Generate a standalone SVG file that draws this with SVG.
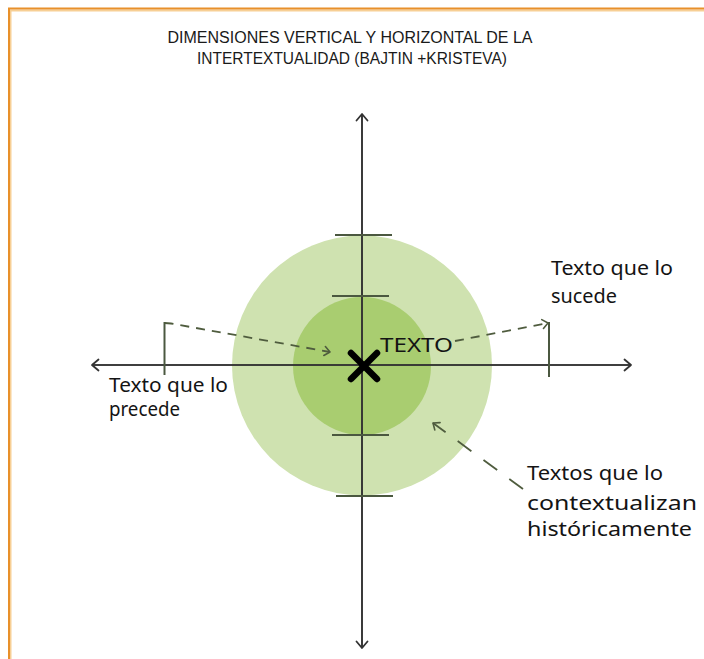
<svg xmlns="http://www.w3.org/2000/svg" width="704" height="659" viewBox="0 0 704 659">
  <style>
    .title { font-family: "Liberation Sans", Arial, sans-serif; font-size: 16px; fill: #1a1a1a; text-anchor: middle; }
    .hand { font-family: "Noto Sans", "DejaVu Sans", sans-serif; font-size: 19px; fill: #141414; }
    .axis { stroke: #333333; stroke-width: 1.6; fill: none; }
    .tick { stroke: #4b5840; stroke-width: 2; fill: none; }
    .dash { stroke: #4f5c3e; stroke-width: 1.8; fill: none; stroke-dasharray: 9 7; }
    .dashlong { stroke: #4f5c3e; stroke-width: 1.8; fill: none; stroke-dasharray: 17 15; }
  </style>
  <defs>
    <marker id="axisArrow" markerUnits="userSpaceOnUse" viewBox="-9 -7 11 14" markerWidth="11" markerHeight="14" refX="0" refY="0" orient="auto" overflow="visible">
      <path d="M-6.5,-5.5 L0,0 L-6.5,5.5" fill="none" stroke="#333333" stroke-width="1.8" stroke-linecap="round" stroke-linejoin="round"/>
    </marker>
    <marker id="dashArrow" markerUnits="userSpaceOnUse" viewBox="-8 -6 10 12" markerWidth="10" markerHeight="12" refX="0" refY="0" orient="auto" overflow="visible">
      <path d="M-5.5,-4.5 L0,0 L-5.5,4.5" fill="none" stroke="#4f5c3e" stroke-width="1.6" stroke-linecap="round" stroke-linejoin="round"/>
    </marker>
  </defs>

  <rect x="0" y="0" width="704" height="659" fill="#ffffff"/>
  <g id="frame">
    <path d="M10.5,659 L10.5,10.5 L704,10.5" fill="none" stroke="#f7cf95" stroke-width="2"/>
    <path d="M9,659 L9,8.5 L704,8.5" fill="none" stroke="#e8902a" stroke-width="2"/>
  </g>

  <g id="title">
    <text class="title" x="350" y="43" textLength="365" lengthAdjust="spacingAndGlyphs">DIMENSIONES VERTICAL Y HORIZONTAL DE LA</text>
    <text class="title" x="352" y="64" textLength="310" lengthAdjust="spacingAndGlyphs">INTERTEXTUALIDAD (BAJTIN +KRISTEVA)</text>
  </g>

  <g id="outer-circle">
    <circle cx="362" cy="365.5" r="130" fill="#cfe2b0"/>
  </g>
  <g id="inner-circle">
    <circle cx="362" cy="366" r="69" fill="#a9cd70"/>
  </g>

  <g id="connectors">
    <line class="axis" x1="362" y1="648" x2="362" y2="114" marker-end="url(#axisArrow)"/>
    <line class="axis" x1="362" y1="114" x2="362" y2="648" marker-end="url(#axisArrow)"/>
    <line class="axis" x1="92" y1="365" x2="631" y2="365" marker-end="url(#axisArrow)"/>
    <line class="axis" x1="631" y1="365" x2="92" y2="365" marker-end="url(#axisArrow)"/>
    <line class="tick" x1="335" y1="235" x2="392" y2="235"/>
    <line class="tick" x1="332" y1="296" x2="389" y2="296"/>
    <line class="tick" x1="332" y1="435" x2="389" y2="435"/>
    <line class="tick" x1="336" y1="496" x2="393" y2="496"/>
    <line class="tick" x1="164.5" y1="322" x2="164.5" y2="375"/>
    <line class="tick" x1="549" y1="322" x2="549" y2="377"/>
    <path class="dash" d="M164.5,323 L171,323.5 L330,352" marker-end="url(#dashArrow)"/>
    <line class="dash" x1="455" y1="341" x2="548" y2="323" marker-end="url(#dashArrow)"/>
    <line class="dashlong" x1="523" y1="489" x2="433" y2="423" marker-end="url(#dashArrow)"/>
  </g>

  <g id="texto-node">
    <line x1="351" y1="353" x2="377" y2="379" stroke="#000" stroke-width="6.5" stroke-linecap="round"/>
    <line x1="377" y1="353" x2="351" y2="379" stroke="#000" stroke-width="6.5" stroke-linecap="round"/>
    <text class="hand" x="380" y="352" font-size="16" textLength="73" lengthAdjust="spacingAndGlyphs">TEXTO</text>
  </g>

  <g id="label-precede">
    <text class="hand" x="109" y="392" textLength="119" lengthAdjust="spacingAndGlyphs">Texto que lo</text>
    <text class="hand" x="109" y="416" textLength="71" lengthAdjust="spacingAndGlyphs">precede</text>
  </g>

  <g id="label-sucede">
    <text class="hand" x="551" y="275" textLength="122" lengthAdjust="spacingAndGlyphs">Texto que lo</text>
    <text class="hand" x="551" y="303" textLength="66" lengthAdjust="spacingAndGlyphs">sucede</text>
  </g>

  <g id="label-contexto">
    <text class="hand" x="527" y="480" textLength="136" lengthAdjust="spacingAndGlyphs">Textos que lo</text>
    <text class="hand" x="527" y="510" textLength="170" lengthAdjust="spacingAndGlyphs">contextualizan</text>
    <text class="hand" x="527" y="536" textLength="165" lengthAdjust="spacingAndGlyphs">históricamente</text>
  </g>
</svg>
